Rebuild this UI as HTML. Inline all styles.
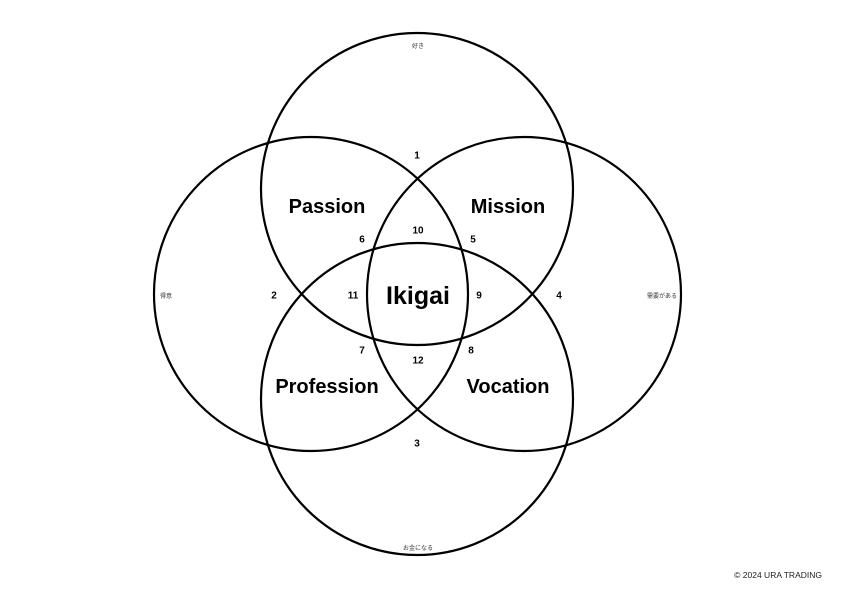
<!DOCTYPE html>
<html><head><meta charset="utf-8"><style>
html,body{margin:0;padding:0;background:#fff;}
svg{display:block;}
.b{font-family:"Liberation Sans","DejaVu Sans",sans-serif;font-weight:bold;fill:#000;text-anchor:middle;dominant-baseline:central;}
.s{font-family:"Liberation Sans","Noto Sans CJK JP",sans-serif;fill:#333;text-anchor:middle;dominant-baseline:central;font-size:6px;}
</style></head><body>
<svg width="842" height="595" viewBox="0 0 842 595" xmlns="http://www.w3.org/2000/svg">
<g fill="none" stroke="#000" stroke-width="2.2">
<circle cx="417" cy="189" r="156"/>
<circle cx="417" cy="399" r="156"/>
<circle cx="311" cy="294" r="157"/>
<circle cx="524" cy="294" r="157"/>
</g>
<text class="b" x="327" y="207" font-size="20">Passion</text>
<text class="b" x="508" y="207" font-size="20">Mission</text>
<text class="b" x="327" y="387" font-size="20">Profession</text>
<text class="b" x="508" y="387" font-size="20">Vocation</text>
<text class="b" x="418" y="296" font-size="25">Ikigai</text>
<g class="b" font-size="10">
<text x="417" y="156">1</text>
<text x="418" y="231">10</text>
<text x="362" y="240">6</text>
<text x="473" y="240">5</text>
<text x="274" y="296">2</text>
<text x="353" y="296">11</text>
<text x="479" y="296">9</text>
<text x="559" y="296">4</text>
<text x="362" y="351">7</text>
<text x="471" y="351">8</text>
<text x="418" y="361">12</text>
<text x="417" y="444">3</text>
</g>
<text class="s" x="418" y="47">好き</text>
<text class="s" x="166" y="297">得意</text>
<text class="s" x="662" y="297">需要がある</text>
<text class="s" x="418" y="549">お金になる</text>
<text x="822" y="578" font-family="Liberation Sans, sans-serif" font-size="8.5" fill="#222" text-anchor="end">© 2024 URA TRADING</text>
</svg>
</body></html>
